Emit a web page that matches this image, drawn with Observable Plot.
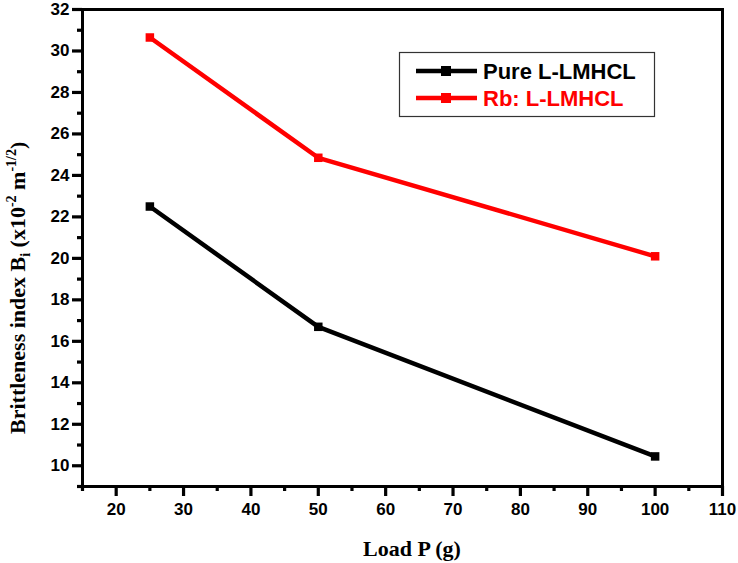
<!DOCTYPE html>
<html>
<head>
<meta charset="utf-8">
<script src="https://cdn.jsdelivr.net/npm/d3@7"></script>
<script src="https://cdn.jsdelivr.net/npm/@observablehq/plot@0.6"></script>
<style>
  html, body { margin: 0; padding: 0; background: white; }
  #chart svg { display: block; }
</style>
</head>
<body>
<div id="chart"></div>
<script>
// Data
const loads = [25, 50, 100];
const pureValues = [22.5, 16.7, 10.45];
const rbValues = [30.65, 24.85, 20.1];
const seriesNames = ["Pure L-LMHCL", "Rb: L-LMHCL"];
const seriesColors = ["black", "red"];
const xMajorTicks = [20, 30, 40, 50, 60, 70, 80, 90, 100, 110];
const xMinorTicks = [15, 25, 35, 45, 55, 65, 75, 85, 95, 105];
const yMajorTicks = [10, 12, 14, 16, 18, 20, 22, 24, 26, 28, 30, 32];
const yMinorTicks = [9, 11, 13, 15, 17, 19, 21, 23, 25, 27, 29, 31];

const rows = [
  ...loads.map((l, i) => ({ load: l, value: pureValues[i], series: seriesNames[0] })),
  ...loads.map((l, i) => ({ load: l, value: rbValues[i], series: seriesNames[1] }))
];

const W = 738, H = 563;
const svg = Plot.plot({
  width: W,
  height: H,
  marginLeft: 82,
  marginRight: 16,
  marginTop: 9,
  marginBottom: 77,
  x: { domain: [15, 110] },
  y: { domain: [9, 32] },
  color: { domain: seriesNames, range: seriesColors },
  style: {
    fontFamily: "'Liberation Sans', Arial, sans-serif",
    fontWeight: "bold",
    fontSize: "17px",
    color: "black",
    background: "white"
  },
  marks: [
    Plot.axisX(xMinorTicks, { tickSize: 5, strokeWidth: 3.2, text: null, label: null }),
    Plot.axisX(xMajorTicks, { tickSize: 10, strokeWidth: 3.2, tickPadding: 6, label: null, fontSize: 17, fontWeight: "bold" }),
    Plot.axisY(yMinorTicks, { tickSize: 5, strokeWidth: 3.2, text: null, label: null }),
    Plot.axisY(yMajorTicks, { tickSize: 10, strokeWidth: 3.2, tickPadding: 3, label: null, fontSize: 17, fontWeight: "bold" }),
    Plot.frame({ strokeWidth: 3, stroke: "black" }),
    Plot.line(rows, { x: "load", y: "value", z: "series", stroke: "series", strokeWidth: 4.5 }),
    Plot.dot(rows, { x: "load", y: "value", fill: "series", symbol: "square", r: 4.8 })
  ]
});
document.getElementById("chart").appendChild(svg);

const s = d3.select(svg);
const serif = "'Liberation Serif', 'Times New Roman', serif";

// x axis label
s.append("text")
  .attr("x", 412).attr("y", 556)
  .attr("text-anchor", "middle")
  .style("font-family", serif).style("font-weight", "bold").style("font-size", "22px")
  .text("Load P (g)");

// y axis label with sub/superscripts
const yl = s.append("text")
  .attr("transform", "translate(25,434) rotate(-90)")
  .attr("text-anchor", "start")
  .style("font-family", serif).style("font-weight", "bold").style("font-size", "22px");
yl.append("tspan").text("Brittleness index B");
yl.append("tspan").attr("dy", 5).style("font-size", "14px").text("i");
yl.append("tspan").attr("dy", -5).text(" (x10");
yl.append("tspan").attr("dy", -9).style("font-size", "14px").text("-2");
yl.append("tspan").attr("dy", 9).text(" m");
yl.append("tspan").attr("dy", -9).style("font-size", "14px").text("-1/2");
yl.append("tspan").attr("dy", 9).text(")");

// legend
const lg = s.append("g");
lg.append("rect").attr("x", 399.5).attr("y", 52.5).attr("width", 255).attr("height", 64)
  .attr("fill", "white").attr("stroke", "#333").attr("stroke-width", 1.2);
seriesNames.forEach((name, i) => {
  const cy = 71 + i * 27;
  lg.append("line").attr("x1", 416).attr("x2", 477).attr("y1", cy).attr("y2", cy)
    .attr("stroke", seriesColors[i]).attr("stroke-width", 4.5);
  lg.append("rect").attr("x", 441).attr("y", cy - 5).attr("width", 10).attr("height", 10)
    .attr("fill", seriesColors[i]);
  lg.append("text").attr("x", 483).attr("y", cy + 8)
    .attr("text-anchor", "start")
    .style("font-family", "'Liberation Sans', Arial, sans-serif")
    .style("font-weight", "bold").style("font-size", "22px")
    .attr("fill", seriesColors[i]).text(name);
});
</script>
</body>
</html>
